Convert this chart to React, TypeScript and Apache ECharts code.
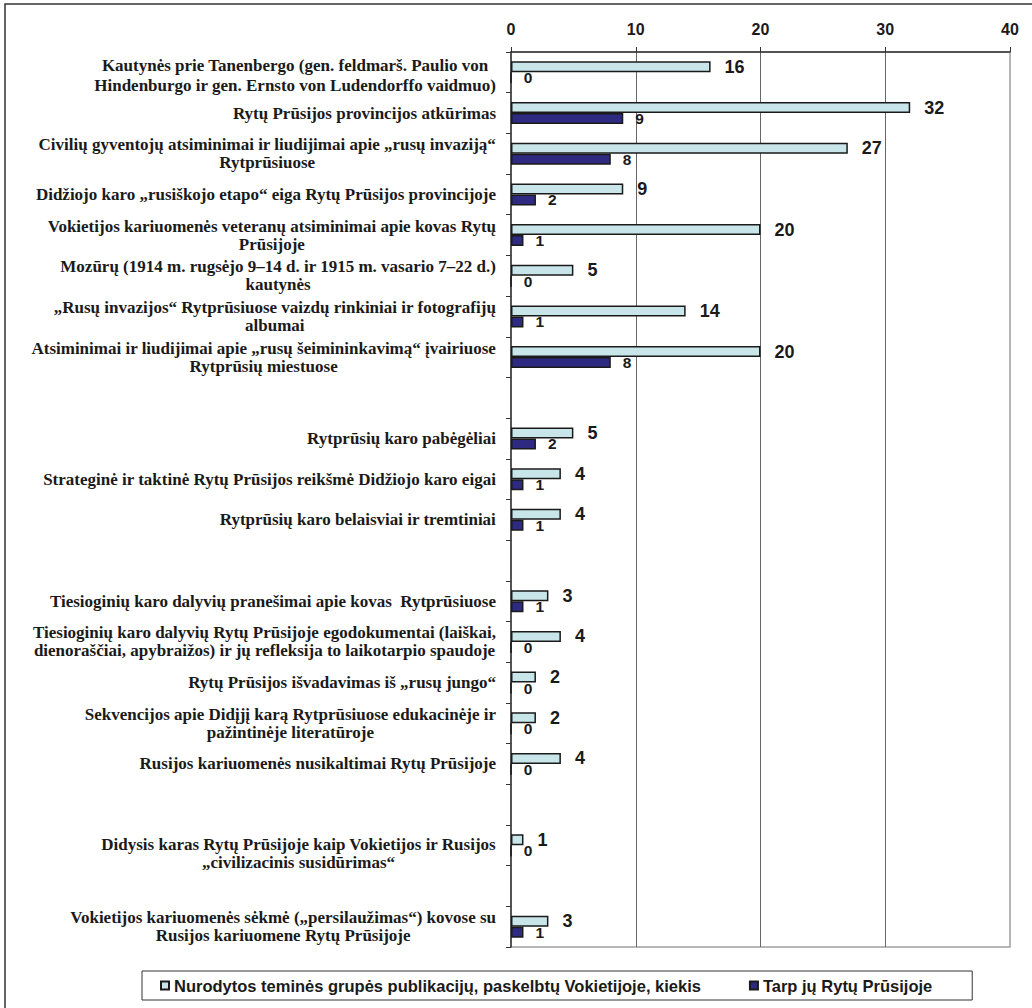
import React, { useEffect, useRef } from "react";
import * as echarts from "echarts";

const categories: string[] = [
  "Kautynės prie Tanenbergo (gen. feldmarš. Paulio von\nHindenburgo ir gen. Ernsto von Ludendorffo vaidmuo)",
  "Rytų Prūsijos provincijos atkūrimas",
  "Civilių gyventojų atsiminimai ir liudijimai apie „rusų invaziją“\nRytprūsiuose",
  "Didžiojo karo „rusiškojo etapo“ eiga Rytų Prūsijos provincijoje",
  "Vokietijos kariuomenės veteranų atsiminimai apie kovas Rytų\nPrūsijoje",
  "Mozūrų (1914 m. rugsėjo 9–14 d. ir 1915 m. vasario 7–22 d.)\nkautynės",
  "„Rusų invazijos“ Rytprūsiuose vaizdų rinkiniai ir fotografijų\nalbumai",
  "Atsiminimai ir liudijimai apie „rusų šeimininkavimą“ įvairiuose\nRytprūsių miestuose",
  "",
  "Rytprūsių karo pabėgėliai",
  "Strateginė ir taktinė Rytų Prūsijos reikšmė Didžiojo karo eigai",
  "Rytprūsių karo belaisviai ir tremtiniai",
  "",
  "Tiesioginių karo dalyvių pranešimai apie kovas  Rytprūsiuose",
  "Tiesioginių karo dalyvių Rytų Prūsijoje egodokumentai (laiškai,\ndienoraščiai, apybraižos) ir jų refleksija to laikotarpio spaudoje",
  "Rytų Prūsijos išvadavimas iš „rusų jungo“",
  "Sekvencijos apie Didįjį karą Rytprūsiuose edukacinėje ir\npažintinėje literatūroje",
  "Rusijos kariuomenės nusikaltimai Rytų Prūsijoje",
  "",
  "Didysis karas Rytų Prūsijoje kaip Vokietijos ir Rusijos\n„civilizacinis susidūrimas“",
  "",
  "Vokietijos kariuomenės sėkmė („persilaužimas“) kovose su\nRusijos kariuomene Rytų Prūsijoje",
];

const seriesNames: string[] = [
  "Nurodytos teminės grupės publikacijų, paskelbtų Vokietijoje, kiekis",
  "Tarp jų Rytų Prūsijoje",
];

const germanyValues: (number | string)[] = [16, 32, 27, 9, 20, 5, 14, 20, "-", 5, 4, 4, "-", 3, 4, 2, 2, 4, "-", 1, "-", 3];
const eastPrussiaValues: (number | string)[] = [0, 9, 8, 2, 1, 0, 1, 8, "-", 2, 1, 1, "-", 1, 0, 0, 0, 0, "-", 0, "-", 1];

const xTicks = { min: 0, max: 40, interval: 10 };

const SANS = "'Liberation Sans', Arial, sans-serif";
const SERIF = "'Liberation Serif', 'Times New Roman', serif";
const INK = "#1a1a1a";

// label tweaks (style only): which category labels sit a bit lower / are more spaced
const labelStyleFor = (idx: number): { spacer: string | null; line: string } => {
  if (idx === 0) return { spacer: "s1", line: "w" };
  if (idx === 19) return { spacer: "s2", line: "c" };
  return { spacer: null, line: "c" };
};

export default function App() {
  const ref = useRef<HTMLDivElement>(null);
  useEffect(() => {
    if (!ref.current) return;
    const chart = echarts.init(ref.current, null, { renderer: "svg" });
    const lineStyle = { align: "center", fontFamily: SERIF, fontWeight: "bold", fontSize: 17, color: INK };
    chart.setOption({
      animation: false,
      backgroundColor: "#ffffff",
      graphic: [
        {
          type: "rect",
          shape: { x: 5, y: 4, width: 1200, height: 1200 },
          style: { fill: "none", stroke: "#333", lineWidth: 1.5 },
          silent: true,
          z: -10,
        },
      ],
      grid: {
        left: 511,
        right: 22,
        top: 52,
        bottom: 61,
        show: true,
        borderColor: "#a0a0a0",
        borderWidth: 1.5,
        backgroundColor: "transparent",
      },
      legend: {
        data: seriesNames,
        left: 142,
        top: 971,
        orient: "horizontal",
        padding: [6, 40, 6, 18],
        itemGap: 48,
        itemWidth: 8,
        itemHeight: 8,
        borderColor: "#333",
        borderWidth: 1,
        icon: "rect",
        textStyle: { fontFamily: SANS, fontWeight: "bold", fontSize: 16.5, color: INK },
      },
      xAxis: {
        type: "value",
        position: "top",
        min: xTicks.min,
        max: xTicks.max,
        interval: xTicks.interval,
        axisLine: { show: true, lineStyle: { color: "#333", width: 1.5 } },
        axisTick: { show: true, length: 5, lineStyle: { color: "#333", width: 1 } },
        axisLabel: { margin: 15, fontFamily: SANS, fontWeight: "bold", fontSize: 16, color: INK },
        splitLine: { show: true, showMinLine: false, showMaxLine: false, lineStyle: { color: "#666", width: 1 } },
      },
      yAxis: {
        type: "category",
        inverse: true,
        data: categories,
        axisLine: { show: true, lineStyle: { color: "#333", width: 1.5 } },
        axisTick: { show: true, length: 5, lineStyle: { color: "#333", width: 1 } },
        axisLabel: {
          margin: 15,
          interval: 0,
          fontFamily: SERIF,
          fontWeight: "bold",
          fontSize: 17,
          color: INK,
          lineHeight: 18,
          formatter: (v: string, idx: number) => {
            if (v === "") return "";
            const st = labelStyleFor(idx);
            const body = v.split("\n").map((l) => `{${st.line}|${l}}`).join("\n");
            return st.spacer ? `{${st.spacer}| }\n${body}` : body;
          },
          rich: {
            c: { ...lineStyle, lineHeight: 18 },
            w: { ...lineStyle, lineHeight: 20 },
            s1: { fontSize: 1, lineHeight: 6 },
            s2: { fontSize: 1, lineHeight: 16 },
          },
        },
        splitLine: { show: false },
      },
      series: [
        {
          name: seriesNames[0],
          type: "bar",
          data: germanyValues,
          barWidth: 11,
          barGap: "0%",
          itemStyle: { color: "#c8e6ea", borderColor: INK, borderWidth: 1.5 },
          label: {
            show: true,
            position: "right",
            distance: 14,
            fontFamily: SANS,
            fontWeight: "bold",
            fontSize: 18,
            color: INK,
          },
        },
        {
          name: seriesNames[1],
          type: "bar",
          data: eastPrussiaValues,
          barWidth: 11,
          barGap: "0%",
          itemStyle: { color: "#2e2a82", borderColor: INK, borderWidth: 1.5 },
          label: {
            show: true,
            position: "right",
            distance: 12,
            fontFamily: SANS,
            fontWeight: "bold",
            fontSize: 15.5,
            color: INK,
          },
        },
      ],
    });
    return () => chart.dispose();
  }, []);
  return <div ref={ref} style={{ width: 1032, height: 1008, position: "absolute", left: 0, top: 0 }} />;
}
